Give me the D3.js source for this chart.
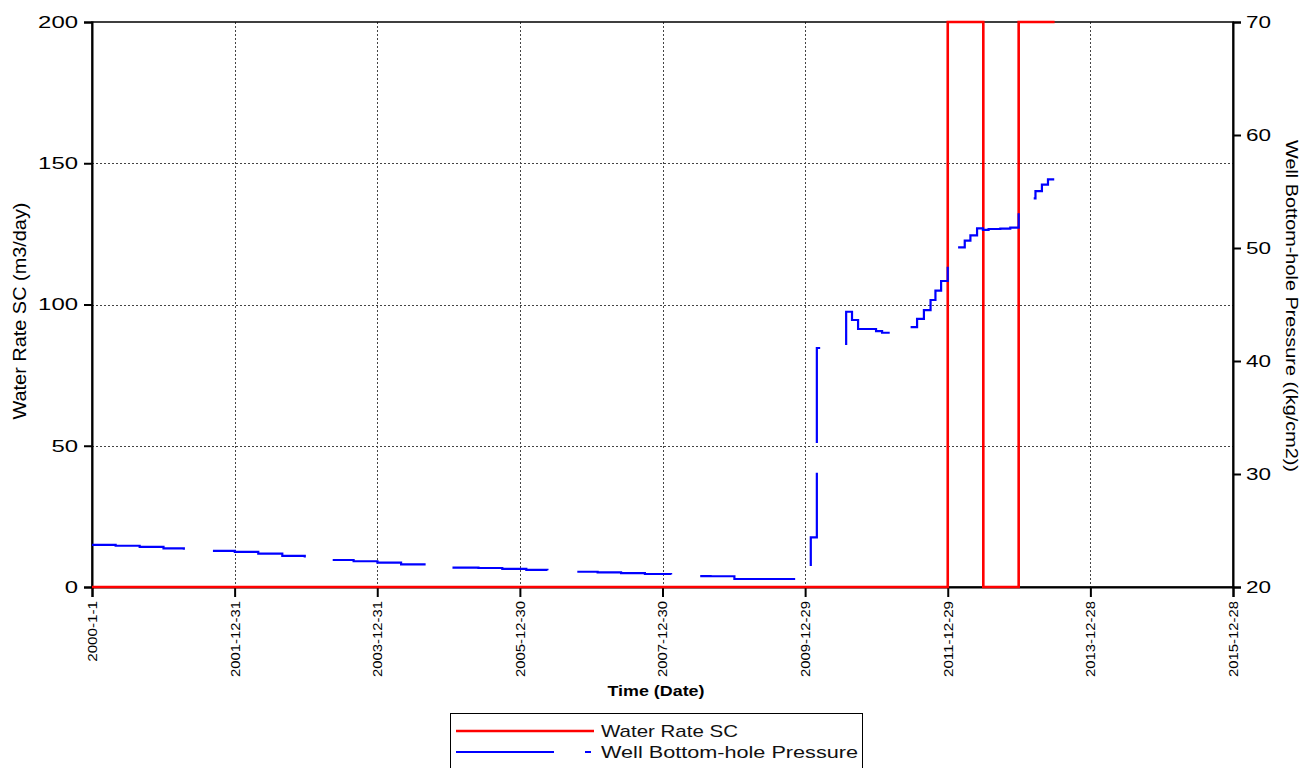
<!DOCTYPE html>
<html>
<head>
<meta charset="utf-8">
<script src="https://cdn.jsdelivr.net/npm/d3@7"></script>
<style>
  html, body { margin: 0; padding: 0; background: #fff; }
  svg { display: block; font-family: "Liberation Sans", Arial, sans-serif; }
</style>
</head>
<body>
<svg id="chart" width="1303" height="768"></svg>
<script>
// ---------- data ----------
const xTickLabels = ["2000-1-1", "2001-12-31", "2003-12-31", "2005-12-30", "2007-12-30",
                     "2009-12-29", "2011-12-29", "2013-12-28", "2015-12-28"];
const leftTicks = [0, 50, 100, 150, 200];
const rightTicks = [20, 30, 40, 50, 60, 70];

// Water Rate SC (m3/day), step-after series
const rateDates  = ["2000-01-01", "2011-12-29", "2012-06-28", "2012-12-26", "2013-06-28"];
const rateValues = [0, 200, 0, 200, 200];

// Well Bottom-hole Pressure (kg/cm2), step-after series; null = gap
const bhpDates = [
  "2000-01-01", "2000-05-01", "2000-09-01", "2001-01-01", "2001-04-15", null,
  "2001-09-11", "2002-01-01", "2002-05-01", "2002-09-01", "2002-12-25", null,
  "2003-05-17", "2003-09-01", "2004-01-01", "2004-05-01", "2004-08-29", null,
  "2005-01-19", "2005-06-01", "2005-10-01", "2006-02-01", "2006-05-20", null,
  "2006-10-20", "2007-02-01", "2007-06-01", "2007-10-01", "2008-02-12", null,
  "2008-07-10", "2008-09-01", "2009-01-01", "2009-11-08", null,
  "2010-01-27", "2010-01-27", "2010-02-27", null,
  "2010-02-27", "2010-02-27", "2010-03-16", null,
  "2010-07-27", "2010-07-27", "2010-08-26", "2010-09-26", "2010-12-27", "2011-01-27", "2011-03-07", null,
  "2011-06-22", "2011-07-25", "2011-08-29", "2011-10-02", "2011-10-27", "2011-11-25", "2011-12-29", null,
  "2012-02-20", "2012-03-25", "2012-04-23", "2012-05-27", "2012-06-26", "2012-07-25", "2012-09-23", "2012-11-13", "2012-12-26", null,
  "2013-03-13", "2013-03-22", "2013-04-24", "2013-05-25", "2013-06-26"
];
const bhpValues = [
  23.72, 23.65, 23.55, 23.42, 23.30, null,
  23.19, 23.10, 22.95, 22.75, 22.60, null,
  22.39, 22.28, 22.15, 22.00, 21.90, null,
  21.71, 21.68, 21.60, 21.52, 21.48, null,
  21.35, 21.30, 21.22, 21.15, 21.10, null,
  20.97, 20.95, 20.71, 20.71, null,
  21.86, 24.40, 30.10, null,
  32.74, 41.15, 41.15, null,
  41.42, 44.36, 43.63, 42.83, 42.65, 42.50, 42.50, null,
  43.00, 43.72, 44.51, 45.40, 46.22, 47.08, 48.35, null,
  50.06, 50.65, 51.12, 51.74, 51.60, 51.68, 51.71, 51.80, 53.07, null,
  54.40, 55.04, 55.60, 56.08, 56.08
];

const legendLabels = ["Water Rate SC", "Well Bottom-hole Pressure"];
const colors = ["#ff0000", "#0000ff"];

// ---------- layout ----------
const svg = d3.select("#chart");
const m = { left: 92, right: 1233, top: 22, bottom: 587 };
const parse = d3.utcParse("%Y-%m-%d");
const tickDates = xTickLabels.map(s => { const p = s.split("-").map(Number); return new Date(Date.UTC(p[0], p[1]-1, p[2])); });

const x = d3.scaleUtc().domain([tickDates[0], tickDates[tickDates.length-1]]).range([m.left, m.right]);
const yL = d3.scaleLinear().domain([0, 200]).range([m.bottom, m.top]);
const yR = d3.scaleLinear().domain([20, 70]).range([m.bottom, m.top]);

// grid
const grid = svg.append("g").attr("stroke", "#444").attr("stroke-width", 1).attr("stroke-dasharray", "2,2");
tickDates.slice(1, -1).forEach(d => {
  grid.append("line").attr("x1", Math.round(x(d)) + 0.5).attr("x2", Math.round(x(d)) + 0.5)
    .attr("y1", m.top).attr("y2", m.bottom);
});
leftTicks.slice(1, -1).forEach(v => {
  grid.append("line").attr("x1", m.left).attr("x2", m.right)
    .attr("y1", Math.round(yL(v)) + 0.5).attr("y2", Math.round(yL(v)) + 0.5);
});

// frame
svg.append("rect").attr("x", m.left).attr("y", m.top)
  .attr("width", m.right - m.left).attr("height", m.bottom - m.top)
  .attr("fill", "none").attr("stroke", "#000").attr("stroke-width", 1.5);

// axes
const xAxis = d3.axisBottom(x).tickValues(tickDates).tickSize(10).tickFormat((d, i) => xTickLabels[i]);
const gx = svg.append("g").attr("transform", `translate(0,${m.bottom})`).call(xAxis);
gx.select(".domain").attr("stroke-width", 2);
gx.selectAll(".tick line").attr("stroke-width", 2);
gx.selectAll(".tick text")
  .attr("transform", "rotate(-90)")
  .attr("x", -14).attr("y", 0).attr("dy", "0.35em")
  .style("text-anchor", "end")
  .attr("font-size", 12.5).attr("font-family", "Liberation Sans, Arial, sans-serif")
  .attr("textLength", (d, i) => xTickLabels[i].length * 7.6)
  .attr("lengthAdjust", "spacingAndGlyphs");

const gl = svg.append("g").attr("transform", `translate(${m.left},0)`)
  .call(d3.axisLeft(yL).tickValues(leftTicks).tickSize(8).tickPadding(6));
gl.select(".domain").attr("stroke-width", 2);
gl.selectAll(".tick line").attr("stroke-width", 2);
gl.selectAll(".tick text").attr("font-size", 17).attr("font-family", "Liberation Sans, Arial, sans-serif")
  .attr("textLength", d => String(d).length * 13.3).attr("lengthAdjust", "spacingAndGlyphs");

const gr = svg.append("g").attr("transform", `translate(${m.right},0)`)
  .call(d3.axisRight(yR).tickValues(rightTicks).tickSize(8).tickPadding(5));
gr.select(".domain").attr("stroke-width", 2);
gr.selectAll(".tick line").attr("stroke-width", 2);
gr.selectAll(".tick text").attr("font-size", 17).attr("font-family", "Liberation Sans, Arial, sans-serif")
  .attr("textLength", d => String(d).length * 12.5).attr("lengthAdjust", "spacingAndGlyphs");

// axis titles
svg.append("text").attr("transform", `translate(26,${311}) rotate(-90)`)
  .attr("text-anchor", "middle").attr("font-size", 18)
  .attr("textLength", 217).attr("lengthAdjust", "spacingAndGlyphs")
  .text("Water Rate SC (m3/day)");
svg.append("text").attr("transform", `translate(1286,${306}) rotate(90)`)
  .attr("text-anchor", "middle").attr("font-size", 17)
  .attr("textLength", 332).attr("lengthAdjust", "spacingAndGlyphs")
  .text("Well Bottom-hole Pressure ((kg/cm2))");
svg.append("text").attr("x", 656).attr("y", 696).attr("text-anchor", "middle")
  .attr("font-size", 14).attr("font-weight", "bold")
  .attr("textLength", 97).attr("lengthAdjust", "spacingAndGlyphs")
  .text("Time (Date)");

// series
const rateData = rateDates.map((d, i) => ({ t: parse(d), v: rateValues[i] }));
const bhpData = bhpDates.map((d, i) => d == null ? null : ({ t: parse(d), v: bhpValues[i] }));

svg.append("path").datum(rateData)
  .attr("fill", "none").attr("stroke", colors[0]).attr("stroke-width", 2.6)
  .attr("d", d3.line().x(d => x(d.t)).y(d => yL(d.v)).curve(d3.curveStepAfter));

svg.append("path").datum(bhpData)
  .attr("fill", "none").attr("stroke", colors[1]).attr("stroke-width", 2.2)
  .attr("d", d3.line().defined(d => d != null).x(d => x(d.t)).y(d => yR(d.v)).curve(d3.curveStepAfter));

// legend
const lg = svg.append("g");
lg.append("rect").attr("x", 450.5).attr("y", 713.5).attr("width", 412).attr("height", 70)
  .attr("fill", "#fff").attr("stroke", "#000").attr("stroke-width", 1);
lg.append("line").attr("x1", 456).attr("x2", 594).attr("y1", 731).attr("y2", 731)
  .attr("stroke", colors[0]).attr("stroke-width", 2.6);
lg.append("line").attr("x1", 456).attr("x2", 594).attr("y1", 752).attr("y2", 752)
  .attr("stroke", colors[1]).attr("stroke-width", 2.2).attr("stroke-dasharray", "98,31,6,40");
const legendWidths = [137, 257];
legendLabels.forEach((t, i) => {
  lg.append("text").attr("x", 601).attr("y", 731 + i * 21).attr("dy", "0.35em")
    .attr("font-size", 17).attr("fill", "#111")
    .attr("textLength", legendWidths[i]).attr("lengthAdjust", "spacingAndGlyphs")
    .text(t);
});
</script>
</body>
</html>
